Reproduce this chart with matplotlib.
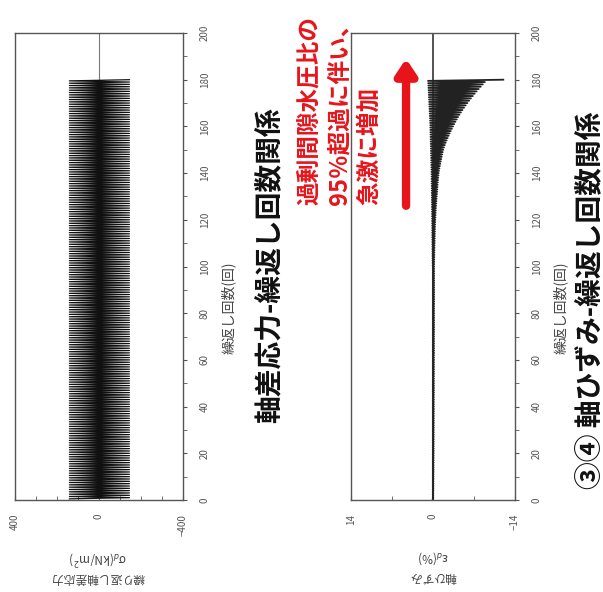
import numpy as np
import matplotlib.pyplot as plt
from matplotlib.ticker import MultipleLocator

# page is scanned sideways: cycles run up the page, stress/strain run right-to-left
plt.rcParams['font.family'] = ['Noto Sans CJK JP', 'DejaVu Sans']

N_CYCLES = 180
cycles = np.arange(1, N_CYCLES + 1)

# deviator stress peaks (kN/m2), constant amplitude loading
stress_comp_peak = 141.0
stress_ext_peak = -145.0

# axial strain peaks (%) per cycle
strain_min = [
    -0.05, -0.06, -0.06, -0.07, -0.07, -0.08, -0.08, -0.08, -0.09, -0.09,
    -0.09, -0.10, -0.10, -0.10, -0.10, -0.11, -0.11, -0.11, -0.11, -0.12,
    -0.12, -0.12, -0.12, -0.12, -0.13, -0.13, -0.13, -0.13, -0.13, -0.13,
    -0.14, -0.14, -0.14, -0.14, -0.14, -0.14, -0.14, -0.15, -0.15, -0.15,
    -0.15, -0.15, -0.15, -0.15, -0.15, -0.16, -0.16, -0.16, -0.16, -0.16,
    -0.16, -0.16, -0.16, -0.17, -0.17, -0.17, -0.17, -0.17, -0.17, -0.17,
    -0.17, -0.17, -0.18, -0.18, -0.18, -0.18, -0.18, -0.18, -0.18, -0.18,
    -0.18, -0.18, -0.19, -0.19, -0.19, -0.19, -0.19, -0.19, -0.19, -0.19,
    -0.19, -0.19, -0.19, -0.20, -0.20, -0.20, -0.20, -0.20, -0.20, -0.20,
    -0.20, -0.20, -0.20, -0.20, -0.20, -0.20, -0.20, -0.20, -0.20, -0.20,
    -0.21, -0.22, -0.22, -0.23, -0.24, -0.24, -0.25, -0.26, -0.27, -0.28,
    -0.29, -0.30, -0.31, -0.32, -0.33, -0.34, -0.35, -0.36, -0.38, -0.40,
    -0.42, -0.44, -0.46, -0.48, -0.50, -0.53, -0.56, -0.59, -0.62, -0.65,
    -0.68, -0.71, -0.74, -0.77, -0.80, -0.83, -0.86, -0.90, -0.94, -0.98,
    -1.03, -1.10, -1.18, -1.26, -1.34, -1.42, -1.50, -1.58, -1.66, -1.75,
    -1.88, -2.02, -2.17, -2.33, -2.50, -2.67, -2.85, -3.03, -3.22, -3.42,
    -3.62, -3.83, -4.05, -4.28, -4.52, -4.77, -5.03, -5.30, -5.58, -5.87,
    -6.17, -6.48, -6.80, -7.12, -7.45, -7.80, -8.15, -8.50, -8.85, -12.0,
]
strain_max = (
    [0.05] * 100
    + [0.08, 0.08, 0.09, 0.09, 0.10, 0.10, 0.10, 0.11, 0.11, 0.12,
       0.12, 0.12, 0.13, 0.13, 0.14, 0.14, 0.14, 0.15, 0.15, 0.16,
       0.16, 0.17, 0.17, 0.18, 0.18, 0.19, 0.19, 0.20, 0.20, 0.21,
       0.21, 0.22, 0.22, 0.23, 0.23, 0.24, 0.24, 0.25, 0.25, 0.26,
       0.27, 0.28, 0.29, 0.30, 0.31, 0.32, 0.33, 0.34, 0.35, 0.36,
       0.37, 0.38, 0.39, 0.40, 0.41, 0.42, 0.43, 0.44, 0.45, 0.46,
       0.47, 0.48, 0.50, 0.52, 0.54, 0.56, 0.58, 0.60, 0.62, 0.64,
       0.66, 0.68, 0.70, 0.72, 0.74, 0.76, 0.78, 0.80, 0.82, 0.85]
)

x_ticks_top = [400, 0, -400]
x_ticks_bot = [14, 0, -14]
cycle_ticks = list(range(0, 201, 20))

title_top = '軸差応力-繰返し回数関係'
title_bot = '③④ 軸ひずみ-繰返し回数関係'
xlabel = '繰返し回数(回)'
ylabel_top = '繰り返し軸差応力\nσ$_d$(kN/m$^2$)'
ylabel_bot = '軸ひずみ\nε$_d$(%)'
note = '過剰間隙水圧比の\n95％超過に伴い、\n急激に増加'

W, H = 603, 592
AX_COL = '#555555'


def zigzag(hi, lo):
    # one loading cycle = a stroke out to the peak and back
    y = np.column_stack([cycles - 0.5, cycles]).ravel()
    x = np.column_stack([hi, lo]).ravel()
    return x, y


def style_axes(ax, xlim, xticks, minor_step):
    ax.set_xlim(*xlim)
    ax.set_ylim(0, 200)
    ax.yaxis.tick_right()
    ax.set_yticks(cycle_ticks)
    ax.yaxis.set_minor_locator(MultipleLocator(10))
    ax.set_xticks(xticks)
    ax.xaxis.set_minor_locator(MultipleLocator(minor_step))
    for s in ax.spines.values():
        s.set_color(AX_COL)
        s.set_linewidth(1.0)
    ax.tick_params(axis='y', which='both', direction='out', length=3,
                   color=AX_COL, labelcolor=AX_COL, labelsize=7,
                   labelrotation=90, pad=9)
    ax.tick_params(axis='x', which='both', direction='in', length=3,
                   color=AX_COL, labelcolor=AX_COL, labelsize=7,
                   labelrotation=90, pad=10)
    for lbl in ax.get_yticklabels():
        lbl.set_va('center')


fig = plt.figure(figsize=(W / 100, H / 100), dpi=100)

ax1 = fig.add_axes([15 / W, 92 / H, 168 / W, 467 / H])
ax1.axvline(0, color='#777777', lw=0.8)
sx, sy = zigzag([stress_comp_peak] * N_CYCLES, [stress_ext_peak] * N_CYCLES)
ax1.plot(sx, sy, color='#111111', lw=0.9)
style_axes(ax1, (400, -400), x_ticks_top, 100)

ax2 = fig.add_axes([351 / W, 92 / H, 164 / W, 467 / H])
ax2.axvline(0, color='#444444', lw=1.3)
ex, ey = zigzag(strain_max, strain_min)
ax2.plot(ex, ey, color='#222222', lw=1.3)
style_axes(ax2, (14, -14), x_ticks_bot, 7)

ax2.annotate('', xy=(4.6, 189), xytext=(4.6, 126),
             arrowprops=dict(arrowstyle='-|>,head_width=0.6,head_length=0.9',
                             color='#e8141c', lw=6, shrinkA=0, shrinkB=0))


def ftext(px, py, s, **kw):
    fig.text(px / W, 1 - py / H, s, **kw)


ftext(228, 308, xlabel, rotation=90, ha='center', va='center',
      fontsize=10, color='#444444')
ftext(560, 308, xlabel, rotation=90, ha='center', va='center',
      fontsize=10, color='#444444')

ftext(98, 566, ylabel_top, rotation=180, ha='center', va='center',
      fontsize=8.5, color='#444444', linespacing=1.4)
ftext(433, 566, ylabel_bot, rotation=180, ha='center', va='center',
      fontsize=8.5, color='#444444', linespacing=1.4)

ftext(270, 265, title_top, rotation=90, ha='center', va='center',
      fontsize=20, fontweight='bold', color='#111111')
ftext(590, 300, title_bot, rotation=90, ha='center', va='center',
      fontsize=20, fontweight='bold', color='#111111')

ftext(339, 205, note, rotation=90, ha='center', va='bottom',
      multialignment='left', fontsize=17, fontweight='bold',
      color='#e8141c', linespacing=1.3)

fig.savefig('out.png', dpi=100, facecolor='white')
